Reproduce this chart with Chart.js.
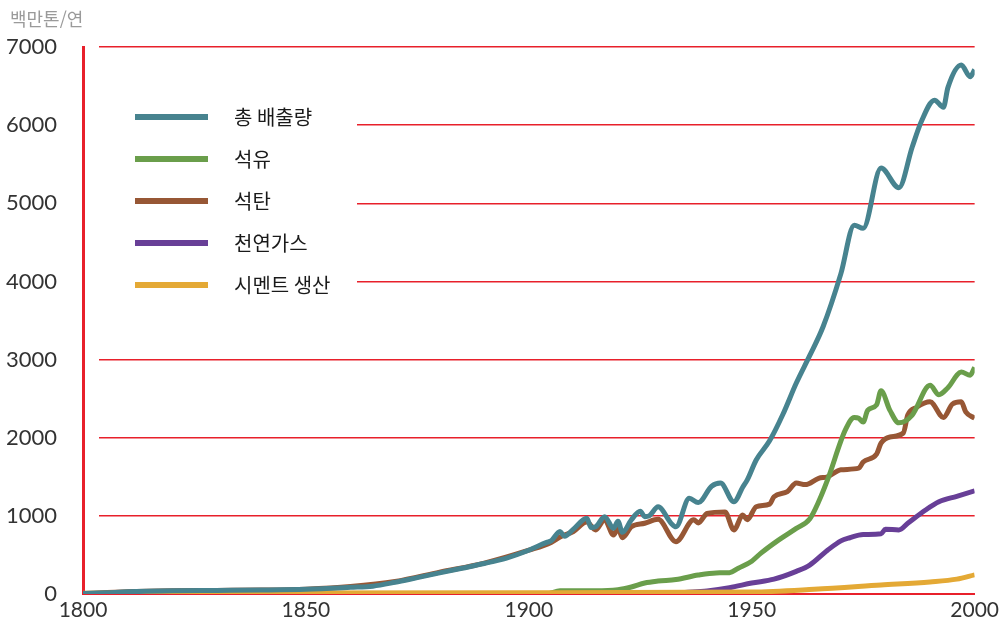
<!DOCTYPE html>
<html lang="ko">
<head>
<meta charset="utf-8">
<script src="https://cdn.jsdelivr.net/npm/chart.js@4.4.1/dist/chart.umd.min.js"></script>
<style>
  html, body { margin: 0; padding: 0; background: #fff; }
  #wrap { position: relative; width: 1003px; height: 625px; }
  #co2 { display: block; }
  #unit { position: absolute; left: 10px; top: 5px; font: 18px "Noto Sans CJK KR", "Noto Sans", sans-serif; color: #9a9a9a; }
</style>
</head>
<body>
<div id="wrap">
  <div id="unit">백만톤/연</div>
  <canvas id="co2" width="1003" height="625"></canvas>
</div>
<script>
// 연도별 배출량 (백만톤/연), 그림에서 읽은 값
const seriesNames = ["총 배출량", "석유", "석탄", "천연가스", "시멘트 생산"];
const seriesColors = ["#47838f", "#6a9e4b", "#975735", "#683f97", "#e4a935"];

const totalYears = [1800, 1805, 1810, 1820, 1830, 1840, 1850, 1860, 1865, 1870, 1875, 1880, 1885, 1890, 1895, 1900, 1904, 1905, 1907, 1908, 1910, 1913, 1914, 1915, 1917, 1919, 1920, 1921, 1923, 1925, 1926, 1927, 1929, 1932, 1933, 1936, 1938, 1941, 1943, 1946, 1948, 1949, 1951, 1954, 1957, 1960, 1963, 1966, 1970, 1973, 1975, 1979, 1983, 1986, 1988, 1991, 1993, 1994, 1997, 1999, 2000];
const totalValues = [5, 15, 28, 40, 45, 50, 60, 85, 100, 150, 210, 270, 330, 390, 460, 560, 660, 680, 800, 740, 830, 970, 850, 860, 990, 840, 930, 790, 950, 1060, 990, 1000, 1115, 900, 860, 1225, 1170, 1380, 1420, 1180, 1370, 1460, 1715, 1960, 2300, 2700, 3050, 3420, 4100, 4720, 4680, 5450, 5200, 5720, 6040, 6320, 6230, 6480, 6770, 6620, 6710];

const oilYears = [1800, 1904, 1907, 1915, 1920, 1923, 1926, 1929, 1933, 1938, 1942, 1945, 1947, 1950, 1952, 1956, 1960, 1963, 1965, 1967, 1971, 1973, 1974, 1975, 1976, 1978, 1979, 1981, 1983, 1986, 1990, 1992, 1994, 1997, 1999, 2000];
const oilValues = [0, 0, 40, 40, 55, 90, 140, 165, 185, 243, 270, 273, 330, 420, 520, 690, 840, 960, 1180, 1460, 2100, 2260, 2250, 2200, 2350, 2420, 2600, 2350, 2190, 2290, 2670, 2550, 2640, 2840, 2800, 2900];

const coalYears = [1800, 1810, 1820, 1830, 1840, 1850, 1860, 1870, 1880, 1890, 1900, 1905, 1907, 1910, 1913, 1915, 1917, 1919, 1920, 1921, 1923, 1926, 1929, 1933, 1937, 1938, 1940, 1944, 1946, 1948, 1949, 1951, 1954, 1955, 1958, 1960, 1962, 1965, 1967, 1970, 1974, 1975, 1978, 1979, 1981, 1984, 1985, 1987, 1990, 1993, 1995, 1997, 1998, 2000];
const coalValues = [5, 28, 40, 45, 50, 62, 95, 160, 280, 395, 560, 660, 730, 800, 920, 820, 950, 755, 840, 720, 860, 905, 955, 670, 950, 910, 1030, 1050, 820, 1010, 950, 1117, 1150, 1245, 1310, 1420, 1400, 1480, 1500, 1590, 1610, 1690, 1790, 1930, 2010, 2060, 2290, 2390, 2460, 2260, 2430, 2460, 2330, 2250];

const gasYears = [1800, 1930, 1935, 1940, 1945, 1950, 1955, 1960, 1963, 1967, 1970, 1972, 1975, 1979, 1980, 1983, 1985, 1989, 1992, 1996, 2000];
const gasValues = [0, 0, 20, 40, 80, 140, 190, 290, 370, 560, 680, 720, 760, 770, 830, 820, 905, 1075, 1180, 1250, 1320];

const cementYears = [1800, 1900, 1950, 1964, 1979, 1990, 1996, 2000];
const cementValues = [10, 15, 25, 60, 115, 155, 190, 245];

const yearTicks = [1800, 1850, 1900, 1950, 2000];
const valueTicks = [0, 1000, 2000, 3000, 4000, 5000, 6000, 7000];

function points(years, values) {
  return years.map(function(y, i) { return { x: y, y: values[i] }; });
}

function line(idx, years, values, order) {
  return {
    label: seriesNames[idx],
    data: points(years, values),
    borderColor: seriesColors[idx],
    backgroundColor: seriesColors[idx],
    borderWidth: 5,
    pointRadius: 0,
    fill: false,
    cubicInterpolationMode: "monotone",
    order: order
  };
}

const RED = "#e8202b";

// 범례 뒤와 축 왼쪽 여백의 격자선을 가리고, 범례를 그린다
const legendBox = {
  id: "legendBox",
  beforeDatasetsDraw: function(chart) {
    const ctx = chart.ctx;
    const a = chart.chartArea;
    ctx.save();
    ctx.fillStyle = "#fff";
    ctx.fillRect(a.left + 2, a.top - 2, 99 - a.left - 2, a.bottom - a.top);
    ctx.fillRect(99, 92, 258, 215);
    ctx.restore();
  },
  afterDatasetsDraw: function(chart) {
    const ctx = chart.ctx;
    ctx.save();
    ctx.font = '20px "Noto Sans CJK KR", "Noto Sans", sans-serif';
    ctx.textBaseline = "middle";
    seriesNames.forEach(function(name, i) {
      const y = 117 + i * 42;
      ctx.strokeStyle = seriesColors[i];
      ctx.lineWidth = 6;
      ctx.beginPath();
      ctx.moveTo(135, y);
      ctx.lineTo(208, y);
      ctx.stroke();
      ctx.fillStyle = "#1a1a1a";
      ctx.fillText(name, 234, y);
    });
    ctx.restore();
  }
};

const data = {
  datasets: [
    line(0, totalYears, totalValues, 0),
    line(1, oilYears, oilValues, 2),
    line(2, coalYears, coalValues, 3),
    line(3, gasYears, gasValues, 4),
    line(4, cementYears, cementValues, 1)
  ]
};

const options = {
  responsive: false,
  animation: false,
  layout: {
    padding: { top: 47, right: 27, bottom: 0, left: 0 }
  },
  scales: {
    x: {
      type: "linear",
      min: 1800,
      max: 2000,
      afterBuildTicks: function(scale) {
        scale.ticks = yearTicks.map(function(v) { return { value: v }; });
      },
      afterFit: function(scale) { scale.height = 31; },
      grid: { display: false, drawTicks: false },
      border: { display: true, color: RED, width: 2 },
      ticks: {
        padding: 4,
        color: "#333",
        font: { family: "Lato, sans-serif", size: 21 },
        callback: function(value) { return String(value); }
      }
    },
    y: {
      min: 0,
      max: 7000,
      afterBuildTicks: function(scale) {
        scale.ticks = valueTicks.map(function(v) { return { value: v }; });
      },
      afterFit: function(scale) {
        scale.width = 83;
        scale.paddingTop = 13;
        scale.paddingBottom = 13;
      },
      grid: { color: RED, lineWidth: 1.5, drawTicks: false },
      border: { display: true, color: RED, width: 3 },
      ticks: {
        padding: 26,
        color: "#333",
        font: { family: "Lato, sans-serif", size: 22 },
        callback: function(value) { return String(value); }
      }
    }
  },
  plugins: {
    legend: { display: false },
    tooltip: { enabled: false }
  }
};

const ctx = document.getElementById("co2").getContext("2d");
new Chart(ctx, {
  type: "line",
  data: data,
  options: options,
  plugins: [legendBox]
});
</script>
</body>
</html>
